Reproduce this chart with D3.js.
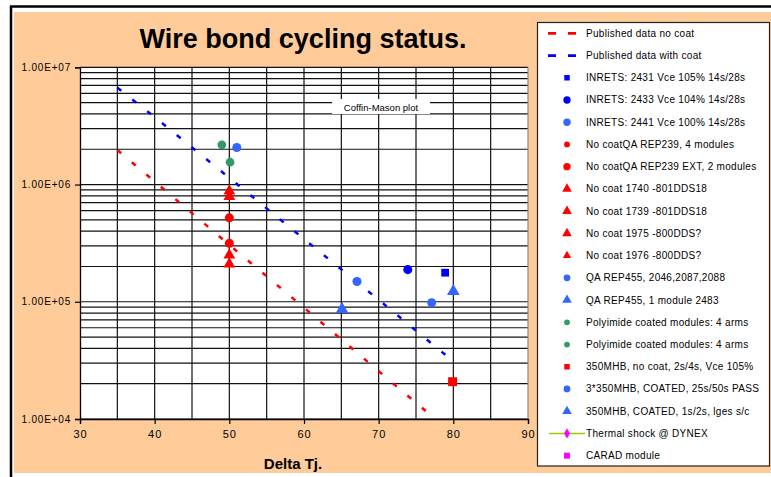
<!DOCTYPE html>
<html>
<head>
<meta charset="utf-8">
<script src="https://cdn.jsdelivr.net/npm/d3@7"></script>
<style>
  body { margin: 0; background: #fff; }
  text { font-family: "Liberation Sans", Arial, sans-serif; }
</style>
</head>
<body>
<div id="chart"></div>
<script>
// chart size
const width = 771;
const height = 477;

// published Coffin-Manson lines (Delta Tj, cycles)
const pubNoCoatX = [35, 40, 50, 60, 70, 80];
const pubNoCoatY = [1.97e6, 1.06e6, 3.06e5, 8.9e4, 2.56e4, 7.4e3];
const pubCoatX = [35, 40, 50, 60, 70, 80];
const pubCoatY = [6.7e6, 3.76e6, 1.14e6, 3.43e5, 1.04e5, 3.1e4];

// measured points [Delta Tj, cycles]
const inrets2431 = [[78.9, 1.77e5]];
const inrets2433 = [[73.9, 1.88e5]];
const inrets2441 = [[77.1, 9.8e4]];
const qaRep239 = [[50, 5.2e5]];
const qaRep239Ext = [[50, 3.15e5]];
const noCoat1740 = [[50, 8.8e5]];
const noCoat1739 = [[50, 7.9e5]];
const noCoat1975 = [[50, 2.5e5]];
const noCoat1976 = [[50, 2.1e5]];
const qaRep455 = [[67.1, 1.49e5]];
const qaRep455b = [[65.1, 8.6e4]];
const polyimideA = [[49, 2.18e6]];
const polyimideB = [[50.1, 1.55e6]];
const mhbNoCoat = [[79.9, 2.08e4]];
const mhbCoatedPass = [[51, 2.07e6]];
const mhbCoated = [[80, 1.23e5]];
const dynex = [];
const carad = [];

// legend labels
const legendLabels = [
  "Published data no coat",
  "Published data with coat",
  "INRETS: 2431 Vce 105% 14s/28s",
  "INRETS: 2433 Vce 104% 14s/28s",
  "INRETS: 2441 Vce 100% 14s/28s",
  "No coatQA REP239, 4 modules",
  "No coatQA REP239 EXT, 2 modules",
  "No coat 1740 -801DDS18",
  "No coat 1739 -801DDS18",
  "No coat 1975 -800DDS?",
  "No coat 1976 -800DDS?",
  "QA REP455, 2046,2087,2088",
  "QA REP455, 1 module 2483",
  "Polyimide coated modules: 4 arms",
  "Polyimide coated modules: 4 arms",
  "350MHB, no coat, 2s/4s, Vce 105%",
  "3*350MHB, COATED, 25s/50s PASS",
  "350MHB, COATED, 1s/2s, lges s/c",
  "Thermal shock @ DYNEX",
  "CARAD module"
];

const xTicks = [30, 40, 50, 60, 70, 80, 90];
const yTicks = [1e4, 1e5, 1e6, 1e7];

// marker series, in legend order after the two lines
const pointSeries = [
  { data: inrets2431, shape: d3.symbolSquare, color: "#0000ff", size: 60, lsize: 30 },
  { data: inrets2433, shape: d3.symbolCircle, color: "#0000ff", size: 64, lsize: 42 },
  { data: inrets2441, shape: d3.symbolCircle, color: "#3366ff", size: 64, lsize: 42 },
  { data: qaRep239, shape: d3.symbolCircle, color: "#ff0000", size: 64, lsize: 26 },
  { data: qaRep239Ext, shape: d3.symbolCircle, color: "#ff0000", size: 64, lsize: 42 },
  { data: noCoat1740, shape: d3.symbolTriangle, color: "#ff0000", size: 60, lsize: 40 },
  { data: noCoat1739, shape: d3.symbolTriangle, color: "#ff0000", size: 60, lsize: 40 },
  { data: noCoat1975, shape: d3.symbolTriangle, color: "#ff0000", size: 60, lsize: 40 },
  { data: noCoat1976, shape: d3.symbolTriangle, color: "#ff0000", size: 60, lsize: 30 },
  { data: qaRep455, shape: d3.symbolCircle, color: "#3366ff", size: 64, lsize: 36 },
  { data: qaRep455b, shape: d3.symbolTriangle, color: "#3366ff", size: 70, lsize: 40 },
  { data: polyimideA, shape: d3.symbolCircle, color: "#339966", size: 60, lsize: 26 },
  { data: polyimideB, shape: d3.symbolCircle, color: "#339966", size: 60, lsize: 26 },
  { data: mhbNoCoat, shape: d3.symbolSquare, color: "#ff0000", size: 80, lsize: 30 },
  { data: mhbCoatedPass, shape: d3.symbolCircle, color: "#3366ff", size: 64, lsize: 36 },
  { data: mhbCoated, shape: d3.symbolTriangle, color: "#3366ff", size: 70, lsize: 40 },
  { data: dynex, shape: d3.symbolDiamond, color: "#ff00ff", size: 40, lsize: 30 },
  { data: carad, shape: d3.symbolSquare, color: "#ff00ff", size: 40, lsize: 36 }
];

const svg = d3.select("#chart").append("svg")
    .attr("width", width)
    .attr("height", height);

// frame + peach background
svg.append("rect").attr("x", 14).attr("y", 12).attr("width", width - 14).attr("height", 461)
    .attr("fill", "#ffcc99");
svg.append("line").attr("x1", 10).attr("x2", width).attr("y1", 6.5).attr("y2", 6.5)
    .attr("stroke", "#000").attr("stroke-width", 2.5);
svg.append("line").attr("x1", 11).attr("x2", 11).attr("y1", 6).attr("y2", height)
    .attr("stroke", "#000").attr("stroke-width", 2.5);

// scales
const x = d3.scaleLinear().domain([30, 90]).range([80, 528]);
const y = d3.scaleLog().domain([1e4, 1e7]).range([419, 67.3]);

// plot area
svg.append("rect").attr("x", 80).attr("y", 67.3).attr("width", 448).attr("height", 419 - 67.3)
    .attr("fill", "#fff");

// grid
const hGrid = [];
[4, 5, 6].forEach(e => d3.range(1, 10).forEach(m => hGrid.push(m * Math.pow(10, e))));
hGrid.push(1e7);
svg.append("g").selectAll("line").data(hGrid).join("line")
    .attr("x1", 80).attr("x2", 528)
    .attr("y1", d => y(d)).attr("y2", d => y(d))
    .attr("stroke", "#111").attr("stroke-width", 1.2);
svg.append("g").selectAll("line").data(d3.range(35, 90, 5)).join("line")
    .attr("x1", d => x(d)).attr("x2", d => x(d))
    .attr("y1", 67.3).attr("y2", 419)
    .attr("stroke", "#111").attr("stroke-width", 1.2);
svg.append("line").attr("x1", 528).attr("x2", 528).attr("y1", 67.3).attr("y2", 419)
    .attr("stroke", "#888").attr("stroke-width", 1.2);

// coffin-manson label
svg.append("rect").attr("x", 332).attr("y", 99).attr("width", 98).attr("height", 15).attr("fill", "#fff");
svg.append("text").attr("x", 381).attr("y", 110.5).attr("text-anchor", "middle")
    .attr("font-size", 9.5).text("Coffin-Mason plot");

// clip for lines
svg.append("clipPath").attr("id", "plotClip").append("rect")
    .attr("x", 80).attr("y", 67.3).attr("width", 448).attr("height", 419 - 67.3);

const line = d3.line().x(d => x(d[0])).y(d => y(d[1]));
svg.append("path").datum(d3.zip(pubNoCoatX, pubNoCoatY))
    .attr("clip-path", "url(#plotClip)")
    .attr("d", line).attr("fill", "none").attr("stroke", "#ff0000")
    .attr("stroke-width", 2.5).attr("stroke-dasharray", "5,14");
svg.append("path").datum(d3.zip(pubCoatX, pubCoatY))
    .attr("clip-path", "url(#plotClip)")
    .attr("d", line).attr("fill", "none").attr("stroke", "#0000ff")
    .attr("stroke-width", 2.5).attr("stroke-dasharray", "5,14");

// axes
const yAxis = svg.append("g").attr("transform", "translate(80,0)")
    .call(d3.axisLeft(y).tickValues(yTicks).tickSize(5).tickPadding(4)
        .tickFormat(d => "1.00E+" + String(Math.round(Math.log10(d))).padStart(2, "0")));
const xAxis = svg.append("g").attr("transform", "translate(0,419)")
    .call(d3.axisBottom(x).tickValues(xTicks).tickSize(5).tickPadding(6));
[yAxis, xAxis].forEach(g => {
  g.select(".domain").attr("stroke", "#000").attr("stroke-width", 1.3);
  g.selectAll(".tick line").attr("stroke", "#000").attr("stroke-width", 1.2);
  g.selectAll("text").attr("fill", "#000").attr("font-family", "Liberation Sans, Arial, sans-serif");
});
yAxis.selectAll("text").attr("font-size", 10).attr("letter-spacing", 0.8);
xAxis.selectAll("text").attr("font-size", 11).attr("letter-spacing", 1);

// markers
pointSeries.forEach(s => {
  svg.append("g").selectAll("path").data(s.data).join("path")
      .attr("transform", d => `translate(${x(d[0])},${y(d[1])})`)
      .attr("d", d3.symbol().type(s.shape).size(s.size))
      .attr("fill", s.color);
});

// title + axis title
svg.append("text").attr("x", 303).attr("y", 48).attr("text-anchor", "middle")
    .attr("font-size", 27).attr("font-weight", "bold").text("Wire bond cycling status.");
svg.append("text").attr("x", 293).attr("y", 469).attr("text-anchor", "middle")
    .attr("font-size", 15).attr("font-weight", "bold").text("Delta Tj.");

// legend
const leg = svg.append("g");
leg.append("rect").attr("x", 537.5).attr("y", 22.5).attr("width", 232).attr("height", 443.5)
    .attr("fill", "#fff").attr("stroke", "#222").attr("stroke-width", 1.2);
const rowY = i => 33.3 + i * 22.23;
leg.selectAll("text").data(legendLabels).join("text")
    .attr("x", 586).attr("y", (d, i) => rowY(i) + 3.5)
    .attr("font-size", 10).attr("letter-spacing", 0.3).text(d => d);
[["#ff0000", 0], ["#0000ff", 1]].forEach(([c, i]) => {
  leg.append("line").attr("x1", 548).attr("x2", 576).attr("y1", rowY(i)).attr("y2", rowY(i))
      .attr("stroke", c).attr("stroke-width", 2.8).attr("stroke-dasharray", "8,12");
});
leg.append("line").attr("x1", 549).attr("x2", 585).attr("y1", rowY(18)).attr("y2", rowY(18))
    .attr("stroke", "#99cc00").attr("stroke-width", 1.5);
pointSeries.forEach((s, k) => {
  leg.append("path")
      .attr("transform", `translate(567,${rowY(k + 2)})`)
      .attr("d", d3.symbol().type(s.shape).size(s.lsize))
      .attr("fill", s.color);
});
</script>
</body>
</html>
